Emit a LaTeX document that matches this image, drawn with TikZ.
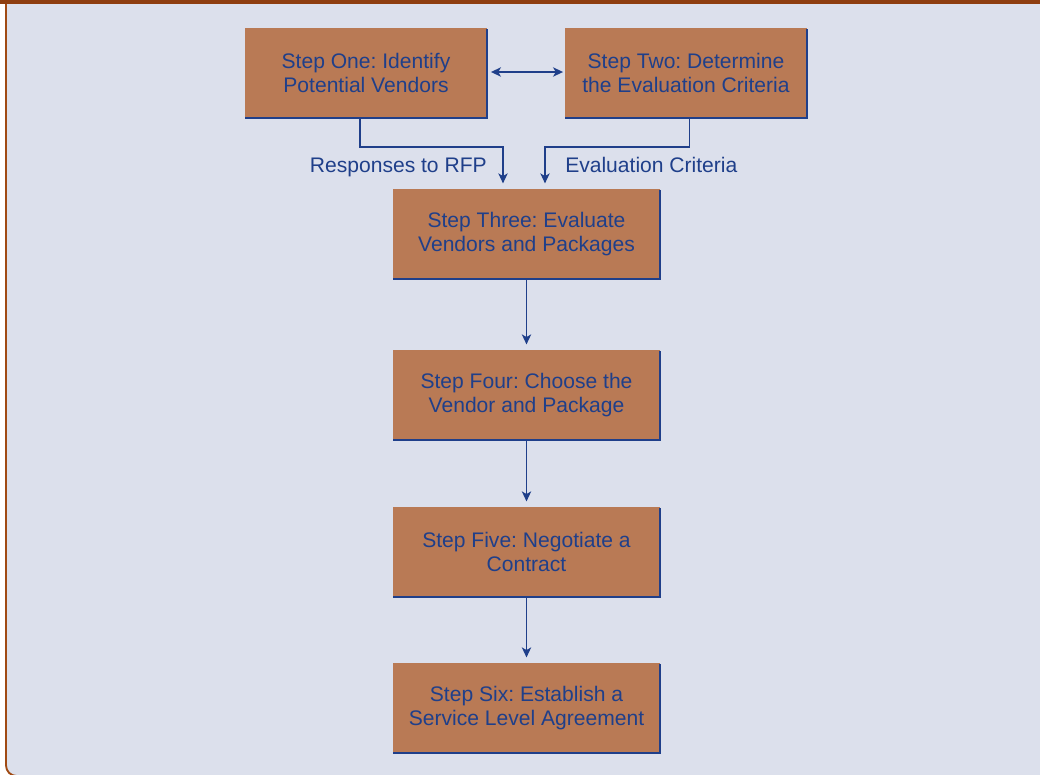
\documentclass[tikz,border=0pt]{standalone}
\usepackage{fontspec}
\setmainfont{Liberation Sans}
\frenchspacing
\usetikzlibrary{arrows.meta}
\definecolor{panelbg}{HTML}{DCE0EC}
\definecolor{boxfill}{HTML}{B97A55}
\definecolor{inkblue}{HTML}{1F3F8A}
\definecolor{rimbrown}{HTML}{A04A14}
\definecolor{headbrown}{HTML}{8E3E10}
\begin{document}
\begin{tikzpicture}[x=0.75pt,y=-0.75pt,
  stepbox/.style={fill=boxfill, inner sep=0pt, align=center, text=inkblue,
    font=\fontsize{15.8}{18}\selectfont},
  narrowbox/.style={stepbox, minimum width=181pt, minimum height=67.5pt},
  widebox/.style={stepbox, minimum width=200pt, minimum height=67.5pt},
  rim/.style={draw=inkblue, line width=1.6pt},
  flow/.style={draw=inkblue, line width=1pt, -{Stealth[length=7.5pt,width=7pt,inset=2pt]}},
  both/.style={draw=inkblue, line width=1pt, {Stealth[length=7.5pt,width=7pt,inset=2pt]}-{Stealth[length=7.5pt,width=7pt,inset=2pt]}},
  tag/.style={text=inkblue, inner sep=0pt, font=\fontsize{15.8}{18}\selectfont}]
\useasboundingbox (0,0) rectangle (1040,775);
% page and panel
\fill[white] (0,0) rectangle (1040,775);
\filldraw[fill=panelbg, draw=rimbrown, line width=1.4pt, rounded corners=8pt]
  (6,-20) -- (6,776) -- (1060,776) -- (1060,-20) -- cycle;
\fill[headbrown] (0,0) rectangle (1040,3.5);

% step boxes
\node[narrowbox] (one)   at (366,73)  {Step One: Identify\\Potential Vendors};
\node[narrowbox] (two)   at (686,73)  {Step Two: Determine\\the Evaluation Criteria};
\node[widebox]   (three) at (526.5,234) {Step Three: Evaluate\\Vendors and Packages};
\node[widebox]   (four)  at (526.5,395) {Step Four: Choose the\\Vendor and Package};
\node[widebox]   (five)  at (526.5,552) {Step Five: Negotiate a\\Contract};
\node[widebox]   (six)   at (526.5,708) {Step Six: Establish a\\Service Level Agreement};

% blue rim on the right and bottom of each box
\foreach \b in {one,two,three,four,five,six}
  \draw[rim] ([yshift=-0.8pt]\b.north east) -- (\b.south east) -- (\b.south west);

% connectors
\draw[both, shorten <=3pt, shorten >=1.5pt] (one.east |- 0,72) -- (two.west |- 0,72);
\coordinate (join1) at (503,147);
\coordinate (join2) at (545,147);
\draw[flow, shorten >=4pt] ([xshift=-4.5pt]one.south) |- (join1) -- (join1 |- three.north);
\draw[flow, shorten >=4pt] ([xshift=2.5pt]two.south) |- (join2) -- (join2 |- three.north);
\draw[flow, shorten >=4pt] (three.south) -- (four.north);
\draw[flow, shorten >=4pt] (four.south) -- (five.north);
\draw[flow, shorten >=4pt] (five.south) -- (six.north);

% connector labels
\node[tag, anchor=base east] (lblrfp) at (487,172) {Responses to RFP};
\node[tag, anchor=base west] (lblcrit) at (565,172) {Evaluation Criteria};
\end{tikzpicture}
\end{document}
